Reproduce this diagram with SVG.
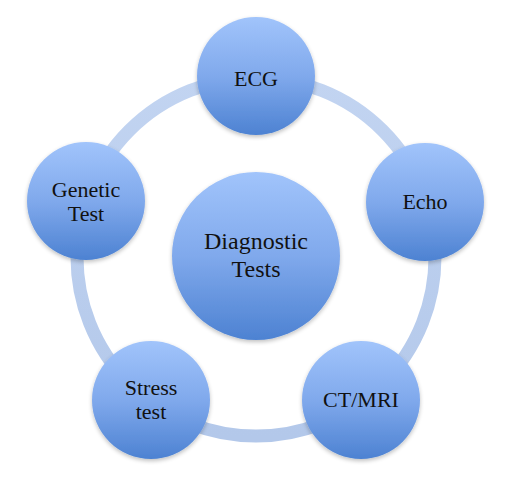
<svg xmlns="http://www.w3.org/2000/svg" width="512" height="486" viewBox="0 0 512 486">
<defs>
<linearGradient id="g" x1="0" y1="0" x2="0" y2="1">
<stop offset="0" stop-color="#a1c4fb"/>
<stop offset="0.5" stop-color="#80a9ec"/>
<stop offset="1" stop-color="#4d82d2"/>
</linearGradient>
<linearGradient id="rg" x1="0" y1="0" x2="0" y2="1">
<stop offset="0" stop-color="#c2d4f1"/>
<stop offset="1" stop-color="#b3c8ea"/>
</linearGradient>
<filter id="sh" x="-20%" y="-20%" width="140%" height="140%">
<feGaussianBlur in="SourceAlpha" stdDeviation="2"/>
<feOffset dy="2"/>
<feComponentTransfer><feFuncA type="linear" slope="0.25"/></feComponentTransfer>
<feMerge><feMergeNode/><feMergeNode in="SourceGraphic"/></feMerge>
</filter>
</defs>
<style>
.n{fill:url(#g);filter:url(#sh)}
.t{font-family:"Liberation Serif","DejaVu Serif",serif;font-size:22px;fill:#111;text-anchor:middle}
.c{font-size:24px}
</style>
<rect width="512" height="486" fill="#fff"/>
<g id="connectors">
<circle cx="256" cy="257" r="179" fill="none" stroke="url(#rg)" stroke-width="13"/>
</g>
<g id="center">
<circle class="n" cx="256" cy="256" r="84"/>
<text class="t c" x="256" y="249">Diagnostic</text>
<text class="t c" x="256" y="277">Tests</text>
</g>
<g id="ecg">
<circle class="n" cx="256" cy="76" r="59"/>
<text class="t" x="256" y="86">ECG</text>
</g>
<g id="echo">
<circle class="n" cx="425" cy="202" r="59"/>
<text class="t" x="425" y="209">Echo</text>
</g>
<g id="ctmri">
<circle class="n" cx="361" cy="400" r="59"/>
<text class="t" x="361" y="407">CT/MRI</text>
</g>
<g id="stress">
<circle class="n" cx="151" cy="400" r="59"/>
<text class="t" x="151" y="395">Stress</text>
<text class="t" x="151" y="419">test</text>
</g>
<g id="genetic">
<circle class="n" cx="86" cy="201" r="59"/>
<text class="t" x="86" y="197">Genetic</text>
<text class="t" x="86" y="221">Test</text>
</g>
</svg>
